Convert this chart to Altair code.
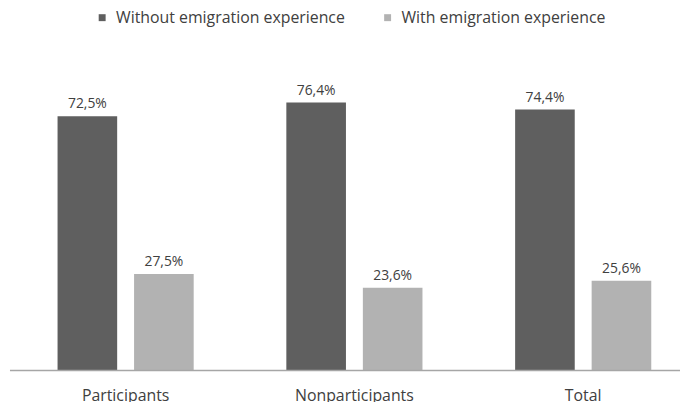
import altair as alt
import pandas as pd

categories = ["Participants", "Nonparticipants", "Total"]
series = ["Without emigration experience", "With emigration experience"]
without_vals = [72.5, 76.4, 74.4]
with_vals = [27.5, 23.6, 25.6]
colors = ["#5f5f5f", "#b2b2b2"]

rows = []
for i, c in enumerate(categories):
    for s, v in zip(series, [without_vals[i], with_vals[i]]):
        rows.append({"category": c, "series": s, "value": v,
                     "label": f"{v:.1f}".replace(".", ",") + "%"})
df = pd.DataFrame(rows)

FONT = "Open Sans"
W, H = 599, 354

x = alt.X("category:N", sort=categories, title=None,
          scale=alt.Scale(paddingInner=0.405, paddingOuter=0),
          axis=alt.Axis(labelAngle=0, ticks=False, domain=False, labelFontSize=16,
                        labelColor="#404040", labelFont=FONT, labelPadding=17,
                        labelBaseline="top"))
xo = alt.XOffset("series:N", sort=series,
                 scale=alt.Scale(paddingInner=0.221, paddingOuter=0))
y = alt.Y("value:Q", scale=alt.Scale(domain=[0, 100]), axis=None)

bars = alt.Chart(df).mark_bar().encode(
    x=x, xOffset=xo, y=y,
    color=alt.Color("series:N", sort=series,
                    scale=alt.Scale(domain=series, range=colors),
                    legend=alt.Legend(title=None, orient="none", legendX=37, legendY=-10,
                                      direction="horizontal", columns=2,
                                      symbolType="square", symbolSize=49,
                                      symbolStrokeWidth=0, labelLimit=0,
                                      labelFontSize=16, labelColor="#404040",
                                      labelFont=FONT, labelOffset=6,
                                      columnPadding=34)),
)

text = alt.Chart(df).mark_text(baseline="bottom", dy=-5, fontSize=14,
                               color="#404040", font=FONT).encode(
    x=x, xOffset=xo, y=y, text="label:N")

axis_line = alt.Chart(pd.DataFrame({"a": [0]})).mark_rule(
    color="#a6a6a6", strokeWidth=1.5).encode(
    x=alt.value(-48), x2=alt.value(W + 31), y=alt.value(H))

chart = alt.layer(bars, text, axis_line).properties(
    width=W, height=H,
    autosize=alt.AutoSizeParams(type="none"),
    padding={"left": 50, "top": 10, "right": 29, "bottom": 30},
).configure_view(stroke=None)

chart.save("out.html", embed_options={"renderer": "svg", "actions": False})
